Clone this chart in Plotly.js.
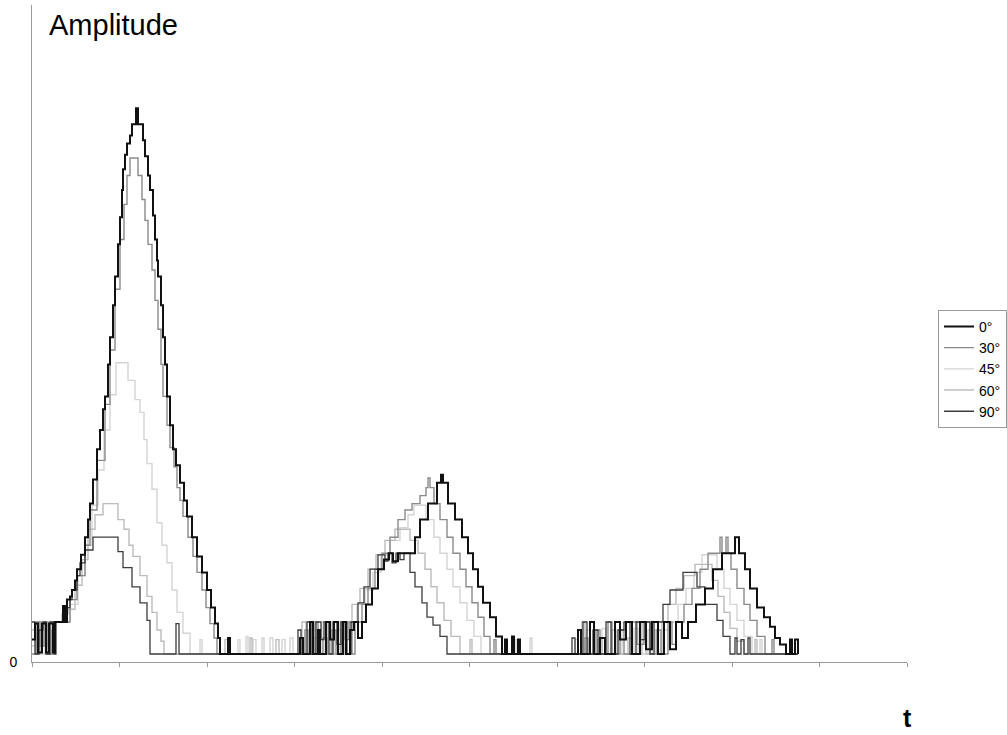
<!DOCTYPE html>
<html>
<head>
<meta charset="utf-8">
<script src="https://cdn.plot.ly/plotly-3.0.1.min.js"></script>
<style>
  html, body { margin: 0; padding: 0; background: #fff; }
  #chart { width: 1007px; height: 735px; }
</style>
</head>
<body>
<div id="chart"></div>
<script>
// Received amplitude versus time (samples) for five incidence angles.
// Each series is a quantised staircase: a value holds until the next sample time.

const angleLabels = ['0\u00b0', '30\u00b0', '45\u00b0', '60\u00b0', '90\u00b0'];

const time0 = [
  0,6,12,20,28,34,42,46, 62,66,70,76,80,86,90,98, 106,112,116,122,130,136,142,146,
  152,156,162,166,172,176,180,182, 186,190,196,200,208,212,222,226, 232,236,242,246,250,252,258,262,
  266,270,276,282,288,296,304,310, 320,330,340,350,358,366,372,376, 392,396,
  536,542,556,562,572,576,588,596, 604,612,622,628,636,644,652,660, 668,680,692,704,714,722,732,766,
  776,792,810,818,822,832,846,860, 872,882,892,902,916,928,940,946, 950,960,964,972,976,
  1092,1098,1116,1124,1136,1146,1166,1176, 1188,1200,1216,1228,1240,1252,1264,1276, 1288,1300,1312,1328,1346,1362,1380,1406,
  1414,1426,1436,1450,1464,1476,1486,1496, 1508,1516,1520,1526,1532
];
const amp0 = [
  1.4,2.4,0.6,2.4,0.6,2.4,0.6,2.5, 3.5,2.5,3.9,4.1,4.5,5.1,5.8,6.7, 7.8,8.9,9.9,11.4,13.3,14.5,15.8,16.6,
  18.6,20.3,22.3,24.1,26.1,27.8,29.5,30.8, 31.7,32.4,32.9,33.6,34.6,33.6,32.6,31.6, 30.4,29.5,27.9,26.4,25.1,24.1,22.3,20.3,
  18.6,16.6,14.8,13.3,12.3,11.2,10.1,9.1, 7.8,6.6,5.6,4.5,3.4,2.4,1.5,0.5, 1.5,0.5,
  1.5,0.5,2.5,0.5,2.0,0.5,2.5,1.4, 2.5,0.5,2.5,0.5,2.0,2.5,1.5,2.5, 3.6,4.6,5.8,6.4,6.8,6.3,6.8,7.8,
  8.9,9.9,11.2,11.7,11.2,9.9,8.9,7.8, 6.8,5.8,4.7,3.7,2.8,1.6,0.5,1.4, 0.5,1.6,0.5,1.4,0.5,
  2.0,0.5,2.5,0.5,1.5,0.5,2.5,1.4, 2.5,0.5,2.5,0.8,2.5,0.5,2.5,0.8, 2.5,1.5,2.5,3.6,4.6,5.8,6.8,7.8,
  6.8,5.8,4.6,3.4,2.8,2.2,1.5,1.1, 0.5,1.4,0.5,1.4,0.5
];

const time30 = [
  0,8,16,24,30,40,46,64, 68,76,90,106,116,130,146,156, 166,176,184,190,196,212,220,226,
  232,240,246,252,258,262,270,276, 284,290,296,302,312,322,330,340, 348,356,364,370,
  546,552,566,572,582,590,600,608, 618,626,634,640,646,660,672,686, 700,716,732,746,760,776,788,792,
  796,804,816,830,842,856,868,880, 892,904,916,924,928,
  1106,1112,1128,1136,1152,1160,1176,1184, 1200,1210,1224,1236,1250,1258,1272,1280, 1288,1304,1320,1336,1352,1376,1380,1388,
  1392,1398,1410,1424,1436,1450,1466,1480, 1484,1532
];
const amp30 = [
  0.5,2.5,1.0,2.5,0.5,2.0,2.5,3.3, 2.5,3.9,5.4,7.3,9.5,12.6,16.1,19.5, 23.3,26.4,28.6,30.4,31.5,30.4,28.9,27.6,
  26.1,24.5,22.6,20.8,18.6,16.6,14.8,13.4, 12.2,10.9,10.1,9.1,7.8,6.6,5.6,4.5, 3.4,2.4,1.5,0.5,
  2.0,0.5,2.5,0.5,1.5,0.5,2.0,0.5, 2.5,1.4,2.5,0.5,2.5,3.6,4.6,5.8, 6.8,7.8,8.9,9.5,9.9,10.4,10.9,11.5,
  10.9,9.9,8.9,7.8,6.8,5.8,4.7,3.7, 2.8,1.6,0.5,1.4,0.5,
  1.5,0.5,2.0,0.5,2.5,0.5,2.0,0.5, 2.5,1.1,2.5,0.5,2.0,0.5,2.5,1.1, 2.5,3.6,4.6,5.8,6.8,7.8,6.8,7.8,
  6.8,5.8,4.6,3.6,2.6,1.6,0.5,1.4, 0.5,0.5
];

const time45 = [
  0,10,18,26,34,42,64,70, 76,92,106,120,132,144,156,168, 192,206,216,224,230,240,250,260, 270,280,290,302,316,
  336,340,412,416,428,432,442,448, 460,464,476,482,500,506,516,522,
  536,544,560,568,580,586,598,604, 616,624,636,650,666,682,698,716, 736,752,764,788,804,816,830,842,
  856,870,884,898,966,970,996,1000,
  1086,1092,1108,1116,1140,1148,1172,1180, 1204,1212,1232,1240,1264,1276,1292,1308, 1324,1340,1370,1384,1396,1410,1424,1440,
  1456,1460,1532
];
const amp45 = [
  1.0,2.5,0.5,2.0,0.5,2.5,3.0,2.5, 3.6,5.4,7.3,9.8,12.0,14.5,16.7,18.7, 17.6,16.4,15.6,13.9,12.4,10.8,8.7,7.3, 6.2,4.5,3.1,1.8,0.5,
  1.4,0.5,1.4,0.5,1.6,0.5,1.4,0.5, 1.5,0.5,1.5,0.5,1.4,0.5,1.5,0.5,
  1.4,0.5,2.0,0.5,2.5,0.5,1.6,0.5, 2.5,0.5,2.5,3.6,4.5,5.6,6.7,7.6, 8.4,9.2,9.8,8.9,7.8,6.8,5.8,4.7,
  3.7,2.6,1.6,0.5,1.4,0.5,1.5,0.5,
  1.4,0.5,2.0,0.5,2.1,0.5,2.0,0.5, 2.1,0.5,2.0,0.5,2.0,2.5,3.6,4.6, 5.6,6.7,5.8,4.6,3.6,2.6,1.6,0.5,
  1.4,0.5,0.5
];

const time60 = [
  0,8,16,24,32,38,46,60, 72,86,100,112,126,142,172,184, 194,202,216,230,240,250,258,264,
  386,392,436,440,488,494,
  540,548,564,572,592,598,612,618, 626,640,656,672,688,706,726,756, 772,786,798,810,824,838,856,876, 880,
  1100,1106,1132,1140,1160,1168,1192,1200, 1220,1228,1246,1252,1260,1272,1288,1304, 1326,1360,1372,1384,1396,1410,1424,1446,
  1450,1532
];
const amp60 = [
  2.0,0.5,2.5,1.0,2.5,0.5,2.5,3.0, 3.3,4.8,6.4,8.3,9.2,9.9,8.9,8.3, 7.3,6.6,5.4,4.1,3.1,2.0,1.3,0.5,
  1.4,0.5,1.5,0.5,1.4,0.5,
  2.5,0.5,1.5,0.5,2.5,0.5,2.0,0.5, 2.5,3.6,4.6,5.8,6.7,7.6,8.3,7.6, 6.8,5.8,4.7,3.7,2.6,1.6,0.5,1.4, 0.5,
  2.5,0.5,1.4,0.5,2.0,0.5,1.5,0.5, 2.5,0.5,2.0,0.5,2.5,3.6,4.6,5.4, 6.1,5.1,4.1,3.1,2.1,1.3,0.5,1.4,
  0.5,0.5
];

const time90 = [
  0,6,14,22,28,36,44,48, 68,76,80,90,96,106,122,172, 182,200,216,230,236,288,294,
  532,538,550,558,568,578,584,594, 602,610,618,630,638,652,664,676, 692,706,712,720,728,736,744,756,
  766,780,790,802,816,830,
  1080,1086,1102,1110,1122,1132,1148,1158, 1172,1184,1196,1208,1216,1226,1236,1244, 1262,1276,1302,1330,1346,1370,1382,1396,
  1406,1410,1418,1424,1432,1436,1532
];
const amp90 = [
  2.5,0.5,2.0,2.5,0.5,2.5,0.5,2.5, 3.4,3.9,4.5,5.4,6.2,7.0,7.8,6.9, 5.9,4.7,3.7,2.6,0.5,2.4,0.5,
  2.0,0.5,2.5,0.5,2.5,1.4,2.5,0.5, 2.5,1.1,2.5,0.5,2.5,3.7,4.7,5.8, 6.7,6.3,6.8,6.2,6.8,6.4,6.8,5.6,
  4.7,3.7,2.8,2.3,1.6,0.5,
  1.5,0.5,2.5,0.5,2.0,0.5,2.5,0.5, 2.0,2.5,0.5,2.5,1.4,2.5,0.5,2.5, 3.6,4.5,5.6,4.7,3.6,2.6,1.6,0.5,
  1.5,0.5,1.4,0.5,1.5,0.5,0.5
];

const seriesTimes = [time0, time30, time45, time60, time90];
const seriesAmps = [amp0, amp30, amp45, amp60, amp90];
const lineColors = ['#111111', '#8a8a8a', '#d4d4d4', '#bcbcbc', '#3c3c3c'];
const lineWidths = [2, 1.4, 1.4, 1.4, 1.3];
// light series underneath, black on top
const drawOrder = [2, 3, 1, 4, 0];

const font = 'Liberation Sans, Arial, sans-serif';

const traces = drawOrder.map(i => ({
  type: 'scatter',
  mode: 'lines',
  x: seriesTimes[i],
  y: seriesAmps[i],
  name: angleLabels[i],
  legendrank: i + 1,
  line: { shape: 'hv', color: lineColors[i], width: lineWidths[i] },
  hoverinfo: 'skip'
}));

const layout = {
  width: 1007,
  height: 735,
  margin: { l: 32, r: 100, t: 5, b: 73, autoexpand: false },
  paper_bgcolor: '#ffffff',
  plot_bgcolor: '#ffffff',
  font: { family: font, color: '#000' },
  title: {
    text: 'Amplitude',
    font: { family: font, size: 29, color: '#000' },
    xref: 'container', x: 49 / 1007, xanchor: 'left',
    yref: 'container', y: 1 - 25 / 735, yanchor: 'middle'
  },
  xaxis: {
    range: [0, 1750],
    showline: true, linecolor: '#9a9a9a', linewidth: 1,
    ticks: 'outside', ticklen: 4, tickcolor: '#9a9a9a', tick0: 0, dtick: 175,
    showticklabels: false, showgrid: false, zeroline: false, fixedrange: true
  },
  yaxis: {
    range: [0, 41.06],
    showline: true, linecolor: '#9a9a9a', linewidth: 1,
    tickvals: [0], ticktext: ['0'], ticks: '',
    ticklabelstandoff: 11,
    tickfont: { family: font, size: 14, color: '#000' },
    showgrid: false, zeroline: false, fixedrange: true
  },
  legend: {
    x: 1.0354, xanchor: 'left', xref: 'paper',
    y: 0.536, yanchor: 'top', yref: 'paper',
    bgcolor: '#ffffff', bordercolor: '#9a9a9a', borderwidth: 1,
    font: { family: font, size: 14, color: '#000' },
    traceorder: 'normal'
  },
  annotations: [{
    text: '<b>t</b>',
    xref: 'paper', yref: 'paper', x: 1.0, y: -0.085,
    xanchor: 'center', yanchor: 'middle', showarrow: false,
    font: { family: font, size: 25, color: '#000' }
  }],
  showlegend: true
};

Plotly.newPlot('chart', traces, layout, { displayModeBar: false, staticPlot: true });
</script>
</body>
</html>
